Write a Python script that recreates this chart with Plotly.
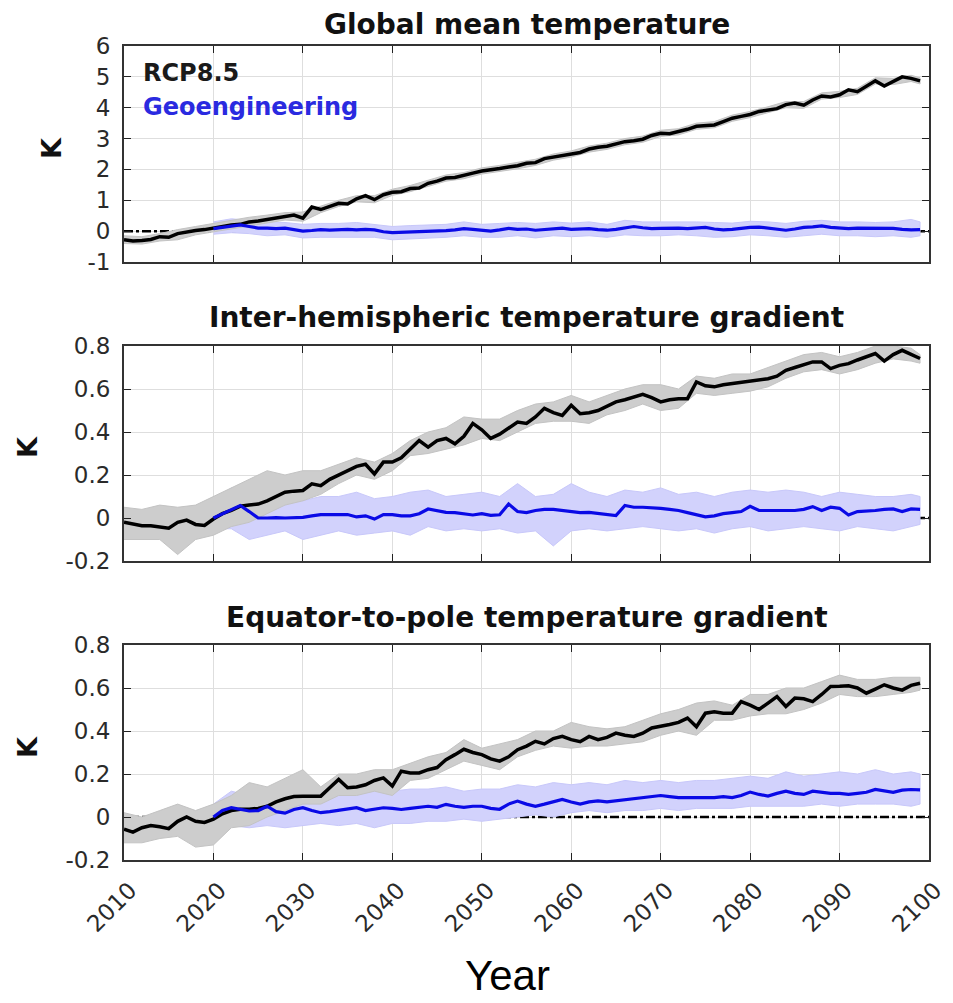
import plotly.graph_objects as go

# ---------------- data ----------------
years = list(range(2010, 2100))
geo_years = list(range(2020, 2100))
gray_band_years = list(range(2010, 2100, 2)) + [2099]
blue_band_years = list(range(2020, 2100, 2)) + [2099]

x_tick_vals = [2010, 2020, 2030, 2040, 2050, 2060, 2070, 2080, 2090, 2100]
x_tick_text = ["2010", "2020", "2030", "2040", "2050", "2060", "2070", "2080", "2090", "2100"]

titles = ["Global mean temperature",
          "Inter-hemispheric temperature gradient",
          "Equator-to-pole temperature gradient"]

y1_ticks = [-1, 0, 1, 2, 3, 4, 5, 6]
y1_text = ["-1", "0", "1", "2", "3", "4", "5", "6"]
y23_ticks = [-0.2, 0, 0.2, 0.4, 0.6, 0.8]
y23_text = ["-0.2", "0", "0.2", "0.4", "0.6", "0.8"]

# Panel 1: global mean temperature (K)
gmt_rcp = [
    -0.28, -0.32, -0.30, -0.27, -0.18, -0.20, -0.08, -0.02, 0.02, 0.05,
    0.10, 0.15, 0.20, 0.22, 0.30, 0.33, 0.38, 0.44, 0.47, 0.52,
    0.42, 0.78, 0.70, 0.80, 0.90, 0.88, 1.05, 1.15, 1.02, 1.18,
    1.26, 1.28, 1.38, 1.40, 1.55, 1.62, 1.72, 1.74, 1.80, 1.88,
    1.95, 1.98, 2.03, 2.08, 2.12, 2.20, 2.22, 2.35, 2.40, 2.44,
    2.50, 2.55, 2.66, 2.72, 2.75, 2.82, 2.90, 2.93, 2.98, 3.10,
    3.17, 3.16, 3.22, 3.30, 3.40, 3.42, 3.44, 3.55, 3.66, 3.72,
    3.78, 3.88, 3.93, 3.97, 4.10, 4.15, 4.08, 4.25, 4.38, 4.35,
    4.42, 4.58, 4.52, 4.68, 4.87, 4.70, 4.85, 5.00, 4.95, 4.87]
gmt_geo = [
    0.08, 0.12, 0.18, 0.20, 0.15, 0.10, 0.10, 0.08, 0.10, 0.05,
    0.00, 0.02, 0.05, 0.03, 0.05, 0.06, 0.04, 0.06, 0.04, -0.02,
    -0.05, -0.04, -0.03, -0.02, 0.00, -0.01, 0.02, 0.04, 0.08, 0.06,
    0.02, 0.00, 0.04, 0.09, 0.06, 0.07, 0.03, 0.06, 0.08, 0.10,
    0.06, 0.07, 0.08, 0.05, 0.03, 0.06, 0.10, 0.15, 0.11, 0.08,
    0.09, 0.10, 0.10, 0.08, 0.10, 0.12, 0.07, 0.04, 0.06, 0.10,
    0.12, 0.13, 0.10, 0.08, 0.03, 0.07, 0.12, 0.14, 0.17, 0.12,
    0.09, 0.08, 0.10, 0.10, 0.08, 0.10, 0.09, 0.06, 0.04, 0.05]
gmt_rcp_hi = [
    -0.15, -0.18, -0.08, 0.05, 0.15, 0.25, 0.35, 0.45, 0.52, 0.60,
    0.62, 0.82, 1.00, 1.15, 1.15, 1.36, 1.48, 1.65, 1.82, 1.90,
    2.05, 2.13, 2.22, 2.33, 2.50, 2.60, 2.76, 2.85, 3.00, 3.08,
    3.27, 3.32, 3.50, 3.55, 3.76, 3.88, 4.03, 4.20, 4.20, 4.48,
    4.53, 4.63, 4.97, 4.95, 5.05, 4.97]
gmt_rcp_lo = [
    -0.40, -0.42, -0.32, -0.28, -0.12, -0.02, 0.08, 0.18, 0.26, 0.36,
    0.32, 0.60, 0.80, 0.95, 0.92, 1.16, 1.28, 1.45, 1.62, 1.70,
    1.85, 1.93, 2.02, 2.13, 2.30, 2.40, 2.56, 2.65, 2.80, 2.88,
    3.07, 3.12, 3.30, 3.35, 3.56, 3.68, 3.83, 4.00, 3.98, 4.28,
    4.33, 4.43, 4.77, 4.75, 4.85, 4.77]
gmt_geo_hi = [
    0.30, 0.40, 0.35, 0.30, 0.28, 0.22, 0.25, 0.25, 0.28, 0.22,
    0.15, 0.18, 0.20, 0.22, 0.30, 0.22, 0.25, 0.28, 0.25, 0.30,
    0.26, 0.30, 0.22, 0.35, 0.30, 0.30, 0.32, 0.30, 0.28, 0.26,
    0.32, 0.30, 0.25, 0.32, 0.35, 0.30, 0.30, 0.28, 0.30, 0.38, 0.30]
gmt_geo_lo = [
    -0.10, -0.05, -0.08, -0.15, -0.12, -0.22, -0.20, -0.18, -0.20, -0.20,
    -0.28, -0.25, -0.22, -0.20, -0.15, -0.20, -0.20, -0.15, -0.22, -0.15,
    -0.18, -0.15, -0.20, -0.12, -0.15, -0.15, -0.12, -0.15, -0.20, -0.18,
    -0.12, -0.15, -0.20, -0.15, -0.10, -0.15, -0.15, -0.18, -0.15, -0.20, -0.15]

# Panel 2: inter-hemispheric temperature gradient (K)
ihg_rcp = [
    -0.020, -0.030, -0.036, -0.036, -0.040, -0.047, -0.020, -0.010, -0.030, -0.035,
    -0.005, 0.020, 0.035, 0.055, 0.060, 0.065, 0.080, 0.100, 0.120, 0.125,
    0.128, 0.159, 0.150, 0.180, 0.200, 0.220, 0.240, 0.250, 0.205, 0.260,
    0.260, 0.280, 0.320, 0.360, 0.330, 0.360, 0.370, 0.345, 0.380, 0.440,
    0.410, 0.370, 0.390, 0.420, 0.446, 0.440, 0.470, 0.510, 0.490, 0.477,
    0.524, 0.485, 0.490, 0.500, 0.520, 0.540, 0.550, 0.563, 0.575, 0.560,
    0.540, 0.550, 0.555, 0.555, 0.633, 0.615, 0.610, 0.620, 0.625, 0.630,
    0.635, 0.640, 0.648, 0.660, 0.687, 0.700, 0.715, 0.726, 0.726, 0.695,
    0.710, 0.718, 0.735, 0.750, 0.765, 0.730, 0.760, 0.780, 0.760, 0.742]
ihg_geo = [
    0.000, 0.020, 0.040, 0.058, 0.030, 0.000, 0.000, 0.002, 0.000, 0.003,
    0.003, 0.010, 0.016, 0.016, 0.016, 0.016, 0.005, 0.010, -0.005, 0.016,
    0.016, 0.010, 0.010, 0.020, 0.042, 0.035, 0.026, 0.025, 0.018, 0.014,
    0.020, 0.012, 0.015, 0.065, 0.030, 0.025, 0.035, 0.040, 0.040, 0.035,
    0.028, 0.025, 0.026, 0.020, 0.015, 0.011, 0.058, 0.050, 0.050, 0.048,
    0.045, 0.040, 0.035, 0.025, 0.015, 0.005, 0.010, 0.020, 0.025, 0.030,
    0.054, 0.035, 0.035, 0.035, 0.035, 0.035, 0.040, 0.053, 0.035, 0.050,
    0.045, 0.014, 0.030, 0.032, 0.035, 0.040, 0.042, 0.030, 0.042, 0.040]
ihg_rcp_hi = [
    0.05, 0.04, 0.06, 0.05, 0.06, 0.10, 0.14, 0.18, 0.22, 0.20,
    0.22, 0.22, 0.25, 0.28, 0.26, 0.30, 0.36, 0.40, 0.42, 0.47,
    0.46, 0.46, 0.50, 0.53, 0.54, 0.57, 0.54, 0.57, 0.60, 0.62,
    0.62, 0.60, 0.66, 0.65, 0.67, 0.67, 0.70, 0.73, 0.76, 0.77,
    0.75, 0.77, 0.80, 0.80, 0.79, 0.76]
ihg_rcp_lo = [
    -0.10, -0.10, -0.10, -0.17, -0.10, -0.08, -0.04, -0.02, 0.02, 0.06,
    0.08, 0.11, 0.16, 0.20, 0.18, 0.22, 0.29, 0.30, 0.32, 0.34,
    0.37, 0.36, 0.40, 0.44, 0.45, 0.45, 0.44, 0.48, 0.50, 0.53,
    0.50, 0.51, 0.58, 0.57, 0.58, 0.59, 0.61, 0.65, 0.68, 0.69,
    0.67, 0.69, 0.72, 0.74, 0.73, 0.72]
ihg_geo_hi = [
    0.08, 0.14, 0.12, 0.10, 0.12, 0.08, 0.10, 0.10, 0.12, 0.09,
    0.10, 0.12, 0.13, 0.10, 0.11, 0.12, 0.10, 0.16, 0.10, 0.11,
    0.16, 0.12, 0.10, 0.13, 0.12, 0.14, 0.11, 0.12, 0.10, 0.12,
    0.13, 0.12, 0.13, 0.12, 0.10, 0.12, 0.11, 0.10, 0.10, 0.11, 0.10]
ihg_geo_lo = [
    -0.05, -0.05, -0.10, -0.08, -0.06, -0.10, -0.08, -0.06, -0.08, -0.07,
    -0.06, -0.08, -0.04, -0.06, -0.05, -0.06, -0.05, -0.07, -0.06, -0.13,
    -0.06, -0.05, -0.06, -0.05, -0.04, -0.05, -0.06, -0.05, -0.07, -0.05,
    -0.04, -0.06, -0.05, -0.04, -0.05, -0.06, -0.04, -0.05, -0.06, -0.04, -0.03]

# Panel 3: equator-to-pole temperature gradient (K)
epg_rcp = [
    -0.057, -0.070, -0.050, -0.040, -0.045, -0.054, -0.020, 0.000, -0.020, -0.025,
    -0.010, 0.015, 0.030, 0.036, 0.036, 0.040, 0.050, 0.070, 0.085, 0.095,
    0.097, 0.097, 0.097, 0.136, 0.175, 0.136, 0.140, 0.150, 0.170, 0.182,
    0.144, 0.213, 0.205, 0.205, 0.220, 0.230, 0.267, 0.290, 0.315, 0.300,
    0.290, 0.270, 0.260, 0.280, 0.313, 0.330, 0.352, 0.340, 0.365, 0.375,
    0.360, 0.350, 0.375, 0.360, 0.370, 0.390, 0.380, 0.375, 0.390, 0.414,
    0.420, 0.430, 0.440, 0.460, 0.420, 0.483, 0.490, 0.483, 0.483, 0.537,
    0.520, 0.500, 0.530, 0.560, 0.514, 0.553, 0.550, 0.537, 0.570, 0.607,
    0.608, 0.610, 0.600, 0.576, 0.595, 0.615, 0.600, 0.590, 0.612, 0.622]
epg_geo = [
    0.000, 0.030, 0.043, 0.035, 0.028, 0.030, 0.050, 0.025, 0.018, 0.035,
    0.043, 0.030, 0.020, 0.025, 0.030, 0.038, 0.043, 0.030, 0.035, 0.043,
    0.040, 0.035, 0.040, 0.045, 0.050, 0.045, 0.059, 0.050, 0.045, 0.050,
    0.050, 0.040, 0.036, 0.060, 0.074, 0.060, 0.050, 0.060, 0.070, 0.082,
    0.070, 0.060, 0.070, 0.075, 0.070, 0.075, 0.082, 0.085, 0.090, 0.095,
    0.100, 0.095, 0.090, 0.090, 0.090, 0.090, 0.090, 0.095, 0.090, 0.100,
    0.116, 0.105, 0.097, 0.110, 0.120, 0.110, 0.105, 0.120, 0.115, 0.110,
    0.110, 0.105, 0.110, 0.115, 0.128, 0.120, 0.115, 0.125, 0.128, 0.126]
epg_rcp_hi = [
    0.02, 0.00, 0.03, 0.06, 0.03, 0.06, 0.10, 0.16, 0.14, 0.18,
    0.22, 0.14, 0.20, 0.20, 0.22, 0.22, 0.25, 0.28, 0.30, 0.36,
    0.32, 0.34, 0.36, 0.40, 0.40, 0.44, 0.42, 0.41, 0.42, 0.45,
    0.48, 0.50, 0.53, 0.54, 0.52, 0.57, 0.57, 0.60, 0.60, 0.63,
    0.66, 0.64, 0.64, 0.65, 0.65, 0.65]
epg_rcp_lo = [
    -0.12, -0.12, -0.10, -0.09, -0.14, -0.13, -0.05, -0.04, 0.00, 0.03,
    0.06, 0.06, 0.10, 0.10, 0.12, 0.10, 0.17, 0.18, 0.22, 0.26,
    0.24, 0.22, 0.28, 0.31, 0.33, 0.32, 0.33, 0.33, 0.34, 0.35,
    0.38, 0.40, 0.38, 0.45, 0.45, 0.47, 0.48, 0.48, 0.50, 0.53,
    0.57, 0.56, 0.56, 0.57, 0.58, 0.59]
epg_geo_hi = [
    0.06, 0.12, 0.10, 0.12, 0.10, 0.12, 0.10, 0.12, 0.11, 0.12,
    0.12, 0.13, 0.13, 0.14, 0.12, 0.13, 0.13, 0.15, 0.14, 0.16,
    0.15, 0.16, 0.15, 0.17, 0.16, 0.17, 0.16, 0.17, 0.17, 0.18,
    0.19, 0.18, 0.21, 0.19, 0.20, 0.21, 0.20, 0.22, 0.20, 0.21, 0.20]
epg_geo_lo = [
    -0.07, -0.04, -0.05, -0.04, -0.05, -0.04, -0.03, -0.04, -0.03, -0.05,
    -0.03, -0.03, -0.02, -0.02, -0.01, -0.02, -0.01, 0.00, 0.01, 0.00,
    0.02, 0.03, 0.02, 0.03, 0.03, 0.04, 0.03, 0.04, 0.04, 0.04,
    0.05, 0.05, 0.05, 0.05, 0.06, 0.05, 0.06, 0.06, 0.06, 0.05, 0.06]

panels = [
    dict(rcp=gmt_rcp, geo=gmt_geo, rhi=gmt_rcp_hi, rlo=gmt_rcp_lo, ghi=gmt_geo_hi, glo=gmt_geo_lo,
         yr=[-1, 6], tv=y1_ticks, tt=y1_text),
    dict(rcp=ihg_rcp, geo=ihg_geo, rhi=ihg_rcp_hi, rlo=ihg_rcp_lo, ghi=ihg_geo_hi, glo=ihg_geo_lo,
         yr=[-0.2, 0.8], tv=y23_ticks, tt=y23_text),
    dict(rcp=epg_rcp, geo=epg_geo, rhi=epg_rcp_hi, rlo=epg_rcp_lo, ghi=epg_geo_hi, glo=epg_geo_lo,
         yr=[-0.2, 0.8], tv=y23_ticks, tt=y23_text),
]

# ---------------- layout geometry (pixels) ----------------
W, H = 953, 1003
def px(x):
    return x / W
def py(y):
    return 1 - y / H

x_left, x_right = 124, 929
panel_px = [(46, 262), (346, 561), (645, 860)]

BLACK = "#000000"
BLUE = "#0a0ae6"
LBLUE = "rgba(210,210,252,1)"
LGRAY = "rgba(205,205,205,1)"
TICKFONT = dict(family="DejaVu Sans", size=23, color="#2a2a2a")
PAD = "\u00a0"  # small gap between y tick labels and the frame

fig = go.Figure()
layout_axes = {}
for i, p in enumerate(panels):
    n = "" if i == 0 else str(i + 1)
    xa, ya = "x" + n, "y" + n
    fig.add_trace(go.Scatter(x=[2010, 2100], y=[0, 0], mode="lines", xaxis=xa, yaxis=ya,
                             line=dict(color=BLACK, width=2.5, dash="dashdot"), hoverinfo="skip"))
    fig.add_trace(go.Scatter(x=blue_band_years + blue_band_years[::-1], y=p["ghi"] + p["glo"][::-1],
                             fill="toself", fillcolor=LBLUE, mode="lines",
                             line=dict(color="rgba(200,200,250,1)", width=1),
                             xaxis=xa, yaxis=ya, hoverinfo="skip"))
    fig.add_trace(go.Scatter(x=gray_band_years + gray_band_years[::-1], y=p["rhi"] + p["rlo"][::-1],
                             fill="toself", fillcolor=LGRAY, mode="lines",
                             line=dict(color="rgba(195,195,195,1)", width=1),
                             xaxis=xa, yaxis=ya, hoverinfo="skip"))
    fig.add_trace(go.Scatter(x=years, y=p["rcp"], mode="lines", xaxis=xa, yaxis=ya,
                             line=dict(color=BLACK, width=3.5)))
    fig.add_trace(go.Scatter(x=geo_years, y=p["geo"], mode="lines", xaxis=xa, yaxis=ya,
                             line=dict(color=BLUE, width=3.2)))

    top, bot = panel_px[i]
    layout_axes["xaxis" + n] = dict(
        domain=[px(x_left), px(x_right)], anchor=ya, range=[2010, 2100],
        tickvals=x_tick_vals, ticktext=x_tick_text,
        showticklabels=(i == 2), tickangle=-45, tickfont=TICKFONT,
        ticklabelshift=6, ticklabelstandoff=6, ticklabeloverflow="allow", automargin=False,
        ticks="inside", ticklen=7, tickwidth=1.2, tickcolor="#222",
        showline=True, linecolor="#333", linewidth=1.5, mirror="ticks",
        showgrid=True, gridcolor="#dedede", gridwidth=1, zeroline=False)
    layout_axes["yaxis" + n] = dict(
        domain=[py(bot), py(top)], anchor=xa, range=p["yr"],
        tickvals=p["tv"], ticktext=[t + PAD for t in p["tt"]], tickfont=TICKFONT, automargin=False,
        ticks="inside", ticklen=7, tickwidth=1.2, tickcolor="#222",
        showline=True, linecolor="#333", linewidth=1.5, mirror="ticks",
        showgrid=True, gridcolor="#dedede", gridwidth=1, zeroline=False)

annotations = []
title_y = [24, 318, 617]
for i, t in enumerate(titles):
    annotations.append(dict(text="<b>%s</b>" % t, x=px((x_left + x_right) / 2), y=py(title_y[i]),
                            xref="paper", yref="paper", xanchor="center", yanchor="middle",
                            showarrow=False, font=dict(family="DejaVu Sans", size=28, color="#111")))
k_pos = [(52, 148), (27, 447), (27, 747)]
for kx, ky in k_pos:
    annotations.append(dict(text="<b>K</b>", x=px(kx), y=py(ky), xref="paper", yref="paper",
                            xanchor="center", yanchor="middle", textangle=-90, showarrow=False,
                            font=dict(family="DejaVu Sans", size=27, color="#111")))
annotations.append(dict(text="<b>RCP8.5</b>", x=px(141), y=py(73), xref="paper", yref="paper",
                        xanchor="left", yanchor="middle", showarrow=False,
                        font=dict(family="DejaVu Sans", size=24, color="#1a1a1a")))
annotations.append(dict(text="<b>Geoengineering</b>", x=px(141), y=py(107), xref="paper", yref="paper",
                        xanchor="left", yanchor="middle", showarrow=False,
                        font=dict(family="DejaVu Sans", size=24, color="#2a2ae0")))
annotations.append(dict(text="Year", x=px(508), y=py(975), xref="paper", yref="paper",
                        xanchor="center", yanchor="middle", showarrow=False,
                        font=dict(family="Liberation Sans Narrow, Liberation Sans, Arial", size=42, color="#000")))

fig.update_layout(
    width=W, height=H, margin=dict(l=0, r=0, t=0, b=0, pad=0, autoexpand=False),
    paper_bgcolor="white", plot_bgcolor="white", showlegend=False,
    annotations=annotations, **layout_axes)

fig.write_html("out.html", config={"displayModeBar": False},
               post_script="document.body.style.margin='0';document.body.style.overflow='hidden';")
